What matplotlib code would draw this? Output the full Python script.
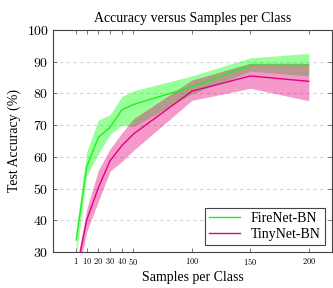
import matplotlib
matplotlib.use('Agg')
import matplotlib.pyplot as plt

# samples per class
samples = [1, 10, 20, 30, 40, 50, 100, 150, 200]

# FireNet-BN accuracy and spread
fire_mean = [33.8, 56.9, 66.2, 69.3, 74.8, 76.5, 82.1, 88.9, 88.9]
fire_low = [29.0, 54.0, 61.0, 67.0, 70.0, 69.5, 79.8, 87.0, 85.5]
fire_high = [37.0, 61.6, 71.6, 73.3, 79.0, 80.8, 85.5, 91.2, 92.6]

# TinyNet-BN accuracy and spread
tiny_mean = [23.3, 40.1, 50.3, 58.8, 63.5, 67.2, 80.7, 85.5, 83.8]
tiny_low = [20.5, 36.4, 46.0, 55.5, 58.5, 62.0, 77.8, 81.6, 77.7]
tiny_high = [26.0, 43.5, 55.8, 62.5, 67.5, 72.0, 84.2, 89.5, 89.5]

x_ticks = [1, 10, 20, 30, 40, 50, 100, 150, 200]
y_ticks = [30, 40, 50, 60, 70, 80, 90, 100]

plt.rcParams['font.family'] = ['Liberation Serif', 'DejaVu Serif']
plt.rcParams['mathtext.fontset'] = 'cm'

fig = plt.figure(figsize=(3.33, 2.88), dpi=100)
ax = fig.add_axes([0.159, 0.125, 0.838, 0.771])

green = '#22ee22'
pink = '#e4007c'

ax.fill_between(samples, fire_low, fire_high, color='#00ff00', alpha=0.4,
                linewidth=0, zorder=2)
ax.fill_between(samples, tiny_low, tiny_high, color=pink, alpha=0.4,
                linewidth=0, zorder=3)
ax.plot(samples, fire_mean, color=green, linewidth=1.0, label='FireNet-BN', zorder=4)
ax.plot(samples, tiny_mean, color=pink, linewidth=1.0, label='TinyNet-BN', zorder=4)

ax.set_xlim(-18.9, 219.9)
ax.set_ylim(30, 100)
ax.set_xticks(x_ticks)
ax.set_xticklabels(['$%d$' % t for t in x_ticks], fontsize=6)
ax.set_yticks(y_ticks)
ax.set_yticklabels(['$%d$' % t for t in y_ticks], fontsize=10)
ax.tick_params(direction='in', top=True, right=True, length=3, width=0.5,
               color='#444444', pad=3)

ax.yaxis.grid(True, linestyle=(0, (4, 4)), color='#c8c8c8', linewidth=0.6)
ax.set_axisbelow(True)
for s in ax.spines.values():
    s.set_linewidth(0.8)
    s.set_color('#444444')

ax.set_title('Accuracy versus Samples per Class', fontsize=10, pad=6)
ax.set_xlabel('Samples per Class', fontsize=10, labelpad=3)
ax.set_ylabel('Test Accuracy (%)', fontsize=10, labelpad=4)

leg = ax.legend(loc='lower right', fontsize=10, fancybox=False, framealpha=1,
                edgecolor='#444444', handlelength=2.2, borderpad=0.3,
                labelspacing=0.2, borderaxespad=0.5)
leg.get_frame().set_linewidth(0.8)

plt.savefig('out.png', dpi=100)
